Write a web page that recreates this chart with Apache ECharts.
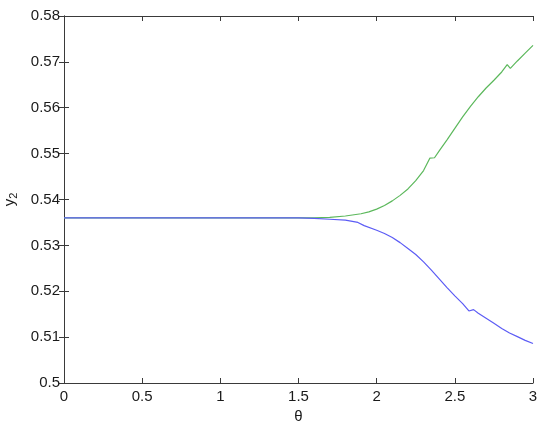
<!DOCTYPE html>
<html><head><meta charset="utf-8">
<script src="https://cdn.jsdelivr.net/npm/echarts@6/dist/echarts.min.js"></script>
<style>html,body{margin:0;padding:0;background:#fff}#c{width:550px;height:426px}</style>
</head><body><div id="c"></div>
<script>
var greenTheta = [0, 0.5, 1.0, 1.5, 1.6, 1.7, 1.8, 1.9, 1.95, 2.0, 2.05, 2.1, 2.15, 2.2, 2.25, 2.3, 2.34, 2.37, 2.4, 2.45, 2.5, 2.55, 2.6, 2.65, 2.7, 2.75, 2.8, 2.835, 2.855, 2.9, 2.95, 3.0];
var greenY2 = [0.536, 0.536, 0.536, 0.536, 0.5360, 0.5361, 0.5364, 0.5369, 0.5373, 0.5379, 0.5387, 0.5397, 0.5409, 0.5423, 0.5441, 0.5463, 0.5490, 0.5491, 0.5506, 0.5530, 0.5555, 0.5580, 0.5603, 0.5624, 0.5643, 0.5660, 0.5678, 0.5694, 0.5686, 0.5702, 0.5719, 0.5736];
var blueTheta = [0, 0.5, 1.0, 1.5, 1.6, 1.7, 1.8, 1.88, 1.92, 2.0, 2.05, 2.1, 2.15, 2.2, 2.25, 2.3, 2.35, 2.4, 2.45, 2.5, 2.55, 2.59, 2.6, 2.62, 2.63, 2.65, 2.7, 2.75, 2.8, 2.85, 2.9, 2.95, 3.0];
var blueY2 = [0.536, 0.536, 0.536, 0.536, 0.5359, 0.5357, 0.5355, 0.5350, 0.5343, 0.5333, 0.5326, 0.5317, 0.5306, 0.5293, 0.5280, 0.5264, 0.5246, 0.5227, 0.5208, 0.5190, 0.5173, 0.5157, 0.5155, 0.5160, 0.5159, 0.5152, 0.5141, 0.5130, 0.5119, 0.5109, 0.5101, 0.5093, 0.5086];
var xTicks = ["0", "0.5", "1", "1.5", "2", "2.5", "3"];
var yTicks = ["0.5", "0.51", "0.52", "0.53", "0.54", "0.55", "0.56", "0.57", "0.58"];

function pairs(xs, ys) { return xs.map(function (x, i) { return [x, ys[i]]; }); }
var axCol = '#3a3a3a';
var txt = '#1a1a1a';
var font = 'Liberation Sans, Arial, sans-serif';
var chart = echarts.init(document.getElementById('c'), null, { renderer: 'canvas' });
var xBase = { type: 'value', min: 0, max: 3, interval: 0.5,
  axisLine: { show: true, lineStyle: { color: axCol, width: 1 } },
  axisTick: { show: true, inside: true, length: 5, lineStyle: { color: axCol } },
  splitLine: { show: false } };
var yBase = { type: 'value', min: 0.5, max: 0.58, interval: 0.01,
  axisLine: { show: true, lineStyle: { color: axCol, width: 1 } },
  axisTick: { show: true, inside: true, length: 5, lineStyle: { color: axCol } },
  splitLine: { show: false } };
chart.setOption({
  animation: false,
  backgroundColor: '#fff',
  grid: { left: 64, right: 17, top: 16, bottom: 43, containLabel: false, outerBoundsMode: 'none' },
  xAxis: [
    Object.assign({}, xBase, { position: 'bottom', name: 'θ', nameLocation: 'middle', nameGap: 23,
      nameTextStyle: { color: txt, fontSize: 15, fontFamily: font },
      axisLabel: { color: txt, fontSize: 15, fontFamily: font, margin: 6,
        formatter: function (v) { return xTicks[Math.round(v / 0.5)]; } } }),
    Object.assign({}, xBase, { position: 'top', axisLabel: { show: false } })
  ],
  yAxis: [
    Object.assign({}, yBase, { position: 'left', name: '{a|y}{b|2}', nameLocation: 'middle', nameGap: 45,
      nameTextStyle: { color: txt, fontSize: 15, fontFamily: font,
        rich: { a: { fontSize: 15, fontFamily: font, color: txt, verticalAlign: 'bottom' },
                b: { fontSize: 11, fontFamily: font, color: txt, verticalAlign: 'bottom', padding: [0, 0, -3, 0] } } },
      axisLabel: { color: txt, fontSize: 15, fontFamily: font, margin: 4,
        formatter: function (v) { return yTicks[Math.round((v - 0.5) / 0.01)]; } } }),
    Object.assign({}, yBase, { position: 'right', axisLabel: { show: false } })
  ],
  series: [
    { type: 'line', data: pairs(greenTheta, greenY2), showSymbol: false, symbol: 'none',
      lineStyle: { color: '#5cb85c', width: 1.2 }, xAxisIndex: 0, yAxisIndex: 0, z: 2 },
    { type: 'line', data: pairs(blueTheta, blueY2), showSymbol: false, symbol: 'none',
      lineStyle: { color: '#5c5cf5', width: 1.2 }, xAxisIndex: 0, yAxisIndex: 0, z: 3 }
  ]
});
</script></body></html>
